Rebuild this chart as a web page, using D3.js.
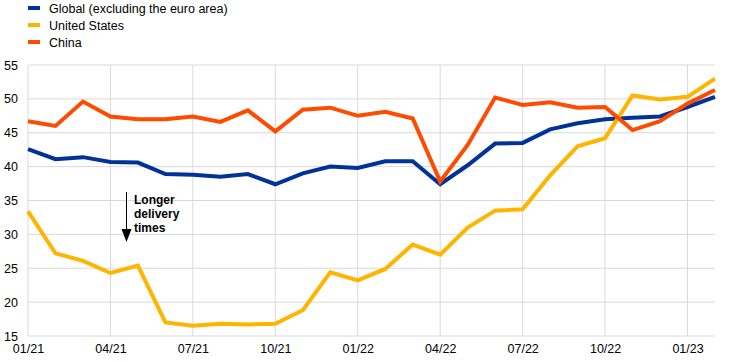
<!DOCTYPE html>
<html>
<head>
<meta charset="utf-8">
<script src="https://d3js.org/d3.v7.min.js"></script>
<style>
  body { margin: 0; background: #fff; }
  text { font-family: Arial, "Liberation Sans", sans-serif; }
</style>
</head>
<body>
<div id="chart"></div>
<script>
const w = 744;
const h = 362;

const months = ["01/21","02/21","03/21","04/21","05/21","06/21","07/21","08/21","09/21","10/21","11/21","12/21",
  "01/22","02/22","03/22","04/22","05/22","06/22","07/22","08/22","09/22","10/22","11/22","12/22",
  "01/23","02/23"];
const xTickLabels = ["01/21","04/21","07/21","10/21","01/22","04/22","07/22","10/22","01/23"];
const yTicks = [15, 20, 25, 30, 35, 40, 45, 50, 55];

const global = [42.6, 41.1, 41.4, 40.7, 40.6, 38.9, 38.8, 38.5, 38.9, 37.4, 39.0, 40.0,
  39.8, 40.8, 40.8, 37.4, 40.2, 43.4, 43.5, 45.5, 46.4, 47.0, 47.2, 47.4, 48.8, 50.3];
const unitedStates = [33.4, 27.2, 26.1, 24.3, 25.4, 17.0, 16.5, 16.8, 16.7, 16.8, 18.8, 24.4,
  23.2, 24.9, 28.5, 27.0, 31.0, 33.5, 33.7, 38.7, 43.0, 44.2, 50.5, 49.9, 50.3, 53.0];
const china = [46.7, 46.0, 49.6, 47.4, 47.0, 47.0, 47.4, 46.6, 48.3, 45.2, 48.4, 48.7,
  47.5, 48.1, 47.1, 37.8, 43.2, 50.2, 49.1, 49.5, 48.7, 48.8, 45.4, 46.7, 49.3, 51.3];

const series = [
  { name: "Global (excluding the euro area)", values: global, color: "#003299" },
  { name: "United States", values: unitedStates, color: "#ffb400" },
  { name: "China", values: china, color: "#ff4b00" }
];

const svg = d3.select("#chart")
  .append("svg")
  .attr("width", w)
  .attr("height", h);

const x = d3.scaleLinear()
  .domain([0, months.length - 1])
  .range([28, 715]);

const y = d3.scaleLinear()
  .domain([15, 55])
  .range([336, 65]);

// grid
svg.append("g")
  .selectAll("line")
  .data(yTicks)
  .enter()
  .append("line")
  .attr("x1", x(0))
  .attr("x2", x(months.length - 1))
  .attr("y1", d => y(d))
  .attr("y2", d => y(d))
  .attr("stroke", "#d9d9d9")
  .attr("stroke-width", 1);

svg.append("g")
  .selectAll("line")
  .data(xTickLabels)
  .enter()
  .append("line")
  .attr("x1", d => x(months.indexOf(d)))
  .attr("x2", d => x(months.indexOf(d)))
  .attr("y1", y(55))
  .attr("y2", y(15))
  .attr("stroke", "#d9d9d9")
  .attr("stroke-width", 1);

// axes
const yAxis = d3.axisLeft(y)
  .tickValues(yTicks)
  .tickSize(0)
  .tickPadding(10);

const yg = svg.append("g")
  .attr("transform", "translate(" + x(0) + ",0)")
  .call(yAxis);
yg.select(".domain").remove();
yg.selectAll("text").attr("font-size", "12.5px").attr("fill", "#000")
  .attr("font-family", "Arial, 'Liberation Sans', sans-serif");

const xAxis = d3.axisBottom(x)
  .tickValues(xTickLabels.map(d => months.indexOf(d)))
  .tickFormat(i => months[i])
  .tickSize(0)
  .tickPadding(8);

const xg = svg.append("g")
  .attr("transform", "translate(0," + y(15) + ")")
  .call(xAxis);
xg.select(".domain").remove();
xg.selectAll("text").attr("font-size", "12.5px").attr("fill", "#000")
  .attr("font-family", "Arial, 'Liberation Sans', sans-serif");

// lines
const line = d3.line()
  .x((d, i) => x(i))
  .y(d => y(d));

svg.selectAll("path.series")
  .data(series)
  .enter()
  .append("path")
  .attr("class", "series")
  .attr("d", d => line(d.values))
  .attr("fill", "none")
  .attr("stroke", d => d.color)
  .attr("stroke-width", 4)
  .attr("stroke-linejoin", "miter");

// legend
const legend = svg.append("g")
  .selectAll("g")
  .data(series)
  .enter()
  .append("g")
  .attr("transform", (d, i) => "translate(28," + (8 + i * 17) + ")");

legend.append("line")
  .attr("x1", 0)
  .attr("x2", 12)
  .attr("stroke", d => d.color)
  .attr("stroke-width", 4);

legend.append("text")
  .attr("x", 21)
  .attr("y", 4.5)
  .attr("font-size", "12.5px")
  .text(d => d.name);

// annotation
const ann = svg.append("g");
ann.append("line")
  .attr("x1", 126.5)
  .attr("x2", 126.5)
  .attr("y1", 192)
  .attr("y2", 232)
  .attr("stroke", "#000")
  .attr("stroke-width", 1);
ann.append("path")
  .attr("d", "M121.5,229 L131.5,229 L126.5,242 Z")
  .attr("fill", "#000");
ann.selectAll("text")
  .data(["Longer", "delivery", "times"])
  .enter()
  .append("text")
  .attr("x", 134)
  .attr("y", (d, i) => 204 + i * 14)
  .attr("font-size", "12px")
  .attr("font-weight", "bold")
  .text(d => d);
</script>
</body>
</html>
